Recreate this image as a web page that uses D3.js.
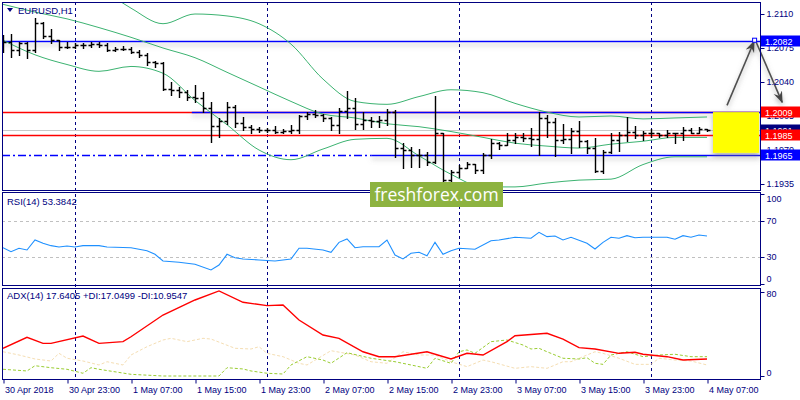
<!DOCTYPE html>
<html>
<head>
<meta charset="utf-8">
<script src="https://cdn.jsdelivr.net/npm/d3@7/dist/d3.min.js"></script>
<style>
  body { margin: 0; background: #fff; }
  svg { display: block; font-family: "Liberation Sans", Arial, sans-serif; }
  .axis text { font-size: 9px; fill: #000080; }
  .axis line { stroke: #000080; }
  .axis path { display: none; }
</style>
</head>
<body>
<div id="chart"></div>
<script>
// ---- data ----
const symbolTitle = "EURUSD,H1";
const rsiTitle = "RSI(14) 53.3842";
const adxTitle = "ADX(14) 17.6405 +DI:17.0499 -DI:10.9547";

// hourly bars, index 0 = 30 Apr 15:00
const opens = [1.2085,1.2081,1.2073,1.2080,1.2073,1.2101,1.2087,1.2083,1.2076,1.2076,
  1.2078,1.2078,1.2079,1.2078,1.2073,1.2074,1.2074,1.2071,1.2068,1.2061,
  1.2060,1.2033,1.2032,1.2030,1.2025,1.2024,1.2013,1.1995,1.2000,1.2014,
  1.1998,1.1994,1.1992,1.1991,1.1991,1.1989,1.1990,1.1991,1.2005,1.2007,
  1.2006,1.2003,1.1996,1.2010,1.2013,1.1997,1.2001,1.2000,1.2001,1.2009,
  1.1972,1.1970,1.1965,1.1965,1.1958,1.1987,1.1939,1.1947,1.1951,1.1956,
  1.1949,1.1965,1.1977,1.1975,1.1980,1.1983,1.1982,1.1981,1.2003,1.1999,
  1.1980,1.1981,1.1990,1.1979,1.1972,1.1948,1.1968,1.1980,1.1985,1.1989,
  1.1985,1.1987,1.1988,1.1985,1.1987,1.1987,1.1991,1.1988,1.1992];
const highs = [1.2088,1.2089,1.2081,1.2081,1.2106,1.2102,1.2095,1.2083,1.2081,1.2080,
  1.2080,1.2081,1.2081,1.2080,1.2076,1.2077,1.2076,1.2073,1.2070,1.2062,
  1.2061,1.2040,1.2035,1.2032,1.2037,1.2030,1.2019,1.2003,1.2019,1.2016,
  1.2004,1.1996,1.1994,1.1993,1.1995,1.1992,1.1996,1.2006,1.2009,1.2011,
  1.2007,1.2004,1.2013,1.2031,1.2024,1.2009,1.2004,1.2005,1.2012,1.2011,
  1.1977,1.1973,1.1971,1.1968,1.2026,1.1988,1.1949,1.1955,1.1958,1.1956,
  1.1967,1.1981,1.1978,1.1987,1.1988,1.1987,1.1993,1.2009,1.2006,1.2003,
  1.1997,1.1993,1.2000,1.1980,1.1982,1.1970,1.1988,1.1989,1.2004,1.1995,
  1.1990,1.1992,1.1988,1.1991,1.1988,1.1994,1.1993,1.1994,1.1992];
const lows = [1.2071,1.2066,1.2068,1.2065,1.2071,1.2085,1.2080,1.2073,1.2075,1.2075,
  1.2075,1.2076,1.2076,1.2072,1.2072,1.2073,1.2070,1.2066,1.2058,1.2055,
  1.2032,1.2027,1.2025,1.2021,1.2019,1.2009,1.1978,1.1983,1.1997,1.1994,
  1.1991,1.1987,1.1989,1.1989,1.1988,1.1987,1.1987,1.1988,1.2002,1.2004,
  1.2000,1.1991,1.1988,1.2003,1.1992,1.1992,1.1994,1.1994,1.1996,1.1963,
  1.1951,1.1953,1.1952,1.1955,1.1957,1.1937,1.1937,1.1942,1.1951,1.1946,
  1.1946,1.1962,1.1971,1.1975,1.1977,1.1979,1.1974,1.1965,1.1983,1.1964,
  1.1977,1.1967,1.1973,1.1967,1.1947,1.1946,1.1967,1.1969,1.1979,1.1982,
  1.1980,1.1983,1.1983,1.1983,1.1977,1.1980,1.1987,1.1987,1.1990];
const closes = [1.2081,1.2073,1.2080,1.2073,1.2101,1.2087,1.2083,1.2076,1.2076,1.2078,
  1.2078,1.2079,1.2078,1.2073,1.2074,1.2074,1.2071,1.2068,1.2061,1.2060,
  1.2033,1.2032,1.2030,1.2025,1.2024,1.2013,1.1995,1.2000,1.2014,1.1998,
  1.1994,1.1992,1.1991,1.1991,1.1989,1.1990,1.1991,1.2005,1.2007,1.2006,
  1.2003,1.1996,1.2010,1.2013,1.1997,1.2001,1.2000,1.2001,1.2009,1.1972,
  1.1970,1.1965,1.1965,1.1958,1.1987,1.1939,1.1947,1.1951,1.1956,1.1949,
  1.1965,1.1977,1.1975,1.1980,1.1983,1.1982,1.1981,1.2003,1.1999,1.1980,
  1.1981,1.1990,1.1979,1.1972,1.1948,1.1968,1.1980,1.1985,1.1989,1.1985,
  1.1987,1.1988,1.1985,1.1987,1.1987,1.1991,1.1988,1.1992,1.1991];

// Bollinger bands, sampled every 4 bars
const bbBars  = [0,4,8,12,16,20,24,28,32,36,40,44,48,52,56,60,64,68,72,76,80,84,88];
const bbUpper = [1.2155,1.2153,1.2150,1.2137,1.2116,1.2100,1.2110,1.2108,1.2100,1.2079,1.2043,1.2020,
  1.2017,1.2025,1.2032,1.2029,1.2018,1.2009,1.2004,1.2005,1.2002,1.2003,1.2004];
const bbMiddle = [1.2120,1.2112,1.2105,1.2096,1.2086,1.2075,1.2065,1.2050,1.2035,1.2020,1.2007,1.2003,
  1.1997,1.1994,1.1989,1.1983,1.1977,1.1974,1.1972,1.1976,1.1979,1.1983,1.1983];
const bbLower = [1.2083,1.2068,1.2058,1.2051,1.2056,1.2049,1.2021,1.1996,1.1970,1.1960,1.1971,1.1981,
  1.1982,1.1964,1.1945,1.1932,1.1932,1.1936,1.1939,1.1940,1.1955,1.1963,1.1963];

// RSI(14)
const rsiBars = [0,1,2,3,4,5,6,7,8,9,10,12,13,16,18,19,20,22,24,26,27,28,29,30,32,34,36,37,38,40,
  41,42,43,44,45,47,48,49,50,51,52,53,54,55,56,57,59,61,62,64,66,67,68,69,70,71,73,74,75,76,
  77,78,79,80,83,84,85,86,87,88];
const rsiValues = [40.3,35.9,39.7,37.8,48.9,45.2,42.6,41.1,42.2,41.1,42.6,42.6,41.1,40.3,37.0,33.0,25.6,24.1,21.9,15.6,
  21.1,33.0,29.2,27.8,26.7,25.6,27.8,39.7,39.7,37.8,35.2,46.3,50.0,40.3,41.4,41.4,48.9,32.2,27.8,34.1,
  35.2,31.4,46.3,33.0,37.0,39.7,38.6,48.1,48.9,51.9,50.8,57.4,52.6,53.3,48.9,51.9,45.2,38.9,46.3,51.9,
  50.8,53.7,51.4,51.9,51.9,49.7,53.7,51.9,54.4,53.4];
const rsiLevels = [70, 30];
const rsiTicks = [100, 70, 30, 0];

// ADX(14) with +DI / -DI
const adxBars = [0,3,5,6,10,12,15,16,20,24,27,30,33,35,37,40,42,45,47,49,53,56,58,60,63,64,68,70,72,74,77,79,80,83,85,88];
const adxValues = [26.4,36.9,31.1,31.1,38.1,31.1,32.7,37.4,58.1,72.4,81.0,70.2,67.0,67.6,53.3,39.0,35.9,23.1,18.4,18.4,
  23.1,16.2,21.6,20.0,32.7,38.4,40.7,35.2,27.0,25.7,21.6,22.6,20.7,18.4,15.2,16.2];
const plusDiBars = [0,3,4,6,8,10,11,12,16,20,23,27,28,30,31,33,35,36,38,40,41,43,46,49,51,53,54,56,57,58,59,61,63,65,66,67,
  68,70,72,73,74,75,76,78,80,82,84,86,88];
const plusDiValues = [6.4,4.8,9.8,7.9,6.4,2.6,7.9,6.4,1.6,0,0,0,7.9,6.7,4.8,2.6,1.9,10.5,18.4,15.2,12.1,22.2,16.9,13.6,10.5,7.3,16.9,12.1,23.1,24.8,21.6,32.7,34.3,29.5,25.7,26.4,
  23.1,16.9,16.2,17.4,12.1,11.1,20.0,23.1,18.4,20.0,20.7,18.4,18.4];
const minusDiBars = [0,2,4,6,7,8,10,12,13,15,16,18,20,21,23,25,26,29,31,32,33,35,37,38,41,44,46,48,50,52,54,56,58,60,61,64,66,68,70,71,
  73,74,75,77,79,81,82,84,86,88];
const minusDiValues = [23.1,20.0,16.2,14.3,21.6,16.9,14.3,10.5,13.6,10.5,20.0,27.9,34.3,35.9,32.7,35.9,35.2,26.4,25.7,27.9,21.6,18.4,12.1,10.5,24.1,20.0,13.6,12.1,23.1,20.0,20.0,13.6,8.9,15.2,13.6,7.3,8.9,7.3,13.6,13.6,
  20.0,23.1,21.6,16.9,11.1,11.1,16.9,15.2,14.3,10.5];
const adxTicks = [80, 0];

// price axis + drawn objects
const priceTicks = [1.2110, 1.2075, 1.2040, 1.2005, 1.1970, 1.1935];
const bidPrice = 1.1991;
const resistanceTop = 1.2082;
const zoneTop = 1.2009;
const pivotLine = 1.1985;
const zoneBottom = 1.1965;
const priceTags = [
  { price: 1.2082, color: "#0000ff" },
  { price: 1.2009, color: "#ff0000" },
  { price: 1.1991, color: "#000080" },
  { price: 1.1985, color: "#ff0000" },
  { price: 1.1965, color: "#0000ff" }
];
const targetBox = { fromBar: 88.75, toBar: 94.5, high: 1.2009, low: 1.1967 };
const forecastUp = [[90.5, 1.2016], [93.9, 1.2082]];
const forecastDown = [[94.1, 1.2082], [97.4, 1.2019]];

// time axis
const timeTickBars = [0, 8, 16, 24, 32, 40, 48, 56, 64, 72, 80, 88];
const timeTickLabels = ["30 Apr 2018", "30 Apr 23:00", "1 May 07:00", "1 May 15:00", "1 May 23:00", "2 May 07:00",
  "2 May 15:00", "2 May 23:00", "3 May 07:00", "3 May 15:00", "3 May 23:00", "4 May 07:00"];
const dayBreakBars = [9, 33, 57, 81];

// ---- layout ----
const width = 800, height = 400;
const left = 2, right = 760;
const mainP = { top: 2, bottom: 190 };
const rsiP = { top: 192, bottom: 285 };
const adxP = { top: 288, bottom: 379 };
const navy = "#000080";

const svg = d3.select("#chart").append("svg")
  .attr("width", width)
  .attr("height", height);

const defs = svg.append("defs");
// user space region so flat lines (zero-height bbox) still get the shadow
const shadow = defs.append("filter").attr("id", "shadow")
  .attr("filterUnits", "userSpaceOnUse")
  .attr("x", 0).attr("y", 0).attr("width", width).attr("height", height);
shadow.append("feDropShadow")
  .attr("dx", 0).attr("dy", 3).attr("stdDeviation", 2.5)
  .attr("flood-color", "#777").attr("flood-opacity", 0.55);

[["clipMain", mainP], ["clipRsi", rsiP], ["clipAdx", adxP]].forEach(([id, p]) => {
  defs.append("clipPath").attr("id", id)
    .append("rect")
    .attr("x", left + 1).attr("y", p.top + 1)
    .attr("width", right - left - 1).attr("height", p.bottom - p.top - 1);
});

// scales
const x = d3.scaleLinear().domain([0, 88]).range([3, 707]);
const y = d3.scaleLinear().domain([1.1935, 1.2110]).range([184, 14]);
const yRsi = d3.scaleLinear().domain([30, 70]).range([257, 221]);
const yAdx = d3.scaleLinear().domain([0, 80]).range([376, 292]);

// day separators through every panel
svg.append("g").selectAll("line")
  .data(dayBreakBars)
  .enter().append("line")
  .attr("x1", d => x(d) + 0.5).attr("x2", d => x(d) + 0.5)
  .attr("y1", mainP.top).attr("y2", adxP.bottom)
  .attr("stroke", navy)
  .attr("stroke-dasharray", "3,3");

// ---- main price panel ----
const main = svg.append("g").attr("clip-path", "url(#clipMain)");

// bid line
main.append("line")
  .attr("x1", left).attr("x2", right)
  .attr("y1", Math.round(y(bidPrice)) + 0.5).attr("y2", Math.round(y(bidPrice)) + 0.5)
  .attr("stroke", "#c8c8c8");

// red levels
[zoneTop, pivotLine].forEach(p => {
  main.append("line")
    .attr("x1", left).attr("x2", right)
    .attr("y1", Math.round(y(p)) + 0.5).attr("y2", Math.round(y(p)) + 0.5)
    .attr("stroke", "#ff0000").attr("stroke-width", 1.3);
});

// dash-dot support on the left part, solid further on
main.append("line")
  .attr("x1", left).attr("x2", x(46.1))
  .attr("y1", Math.round(y(zoneBottom)) + 0.5).attr("y2", Math.round(y(zoneBottom)) + 0.5)
  .attr("stroke", "#0000ff").attr("stroke-width", 1.3)
  .attr("stroke-dasharray", "8,3,2,3");

// blue channel lines with shadow
const blueLines = [
  { price: resistanceTop, from: left },
  { price: zoneTop, from: x(23.6) },
  { price: zoneBottom, from: x(46.1) }
];
main.append("g").selectAll("line")
  .data(blueLines)
  .enter().append("line")
  .attr("x1", d => d.from).attr("x2", right)
  .attr("y1", d => Math.round(y(d.price)) + 0.5).attr("y2", d => Math.round(y(d.price)) + 0.5)
  .attr("stroke", "#0000ff").attr("stroke-width", 1.3)
  .attr("filter", "url(#shadow)");

// Bollinger bands
const bbLine = vals => d3.line()
  .x((d, i) => x(bbBars[i]))
  .y((d) => y(d))
  .curve(d3.curveMonotoneX)(vals);
[bbUpper, bbMiddle, bbLower].forEach(vals => {
  main.append("path")
    .attr("d", bbLine(vals))
    .attr("fill", "none")
    .attr("stroke", "#3cb371")
    .attr("stroke-width", 1);
});

// OHLC bars
main.append("g").selectAll("path")
  .data(closes.map((c, i) => i))
  .enter().append("path")
  .attr("d", i => {
    const cx = x(i) + 0.5;
    return `M${cx},${Math.round(y(highs[i]))}V${Math.round(y(lows[i])) + 1}` +
      `M${cx - 3},${Math.round(y(opens[i])) + 0.5}H${cx}` +
      `M${cx},${Math.round(y(closes[i])) + 0.5}H${cx + 3}`;
  })
  .attr("fill", "none")
  .attr("stroke", "#000")
  .attr("stroke-width", 1.4);

// yellow target zone
main.append("rect")
  .attr("x", x(targetBox.fromBar))
  .attr("y", y(targetBox.high))
  .attr("width", x(targetBox.toBar) - x(targetBox.fromBar))
  .attr("height", y(targetBox.low) - y(targetBox.high))
  .attr("fill", "#ffff00")
  .attr("filter", "url(#shadow)");

// forecast arrows
defs.append("marker").attr("id", "head")
  .attr("viewBox", "0 0 12 10").attr("refX", 11).attr("refY", 5)
  .attr("markerUnits", "userSpaceOnUse")
  .attr("markerWidth", 12).attr("markerHeight", 10)
  .attr("orient", "auto")
  .append("path")
  .attr("d", "M0,0.5L12,5L0,9.5L4,5Z")
  .attr("fill", "#444");

const arrowG = svg.append("g").attr("filter", "url(#shadow)");
[forecastUp, forecastDown].forEach(seg => {
  arrowG.append("line")
    .attr("x1", x(seg[0][0])).attr("y1", y(seg[0][1]))
    .attr("x2", x(seg[1][0])).attr("y2", y(seg[1][1]))
    .attr("stroke", "#505050")
    .attr("stroke-width", 1.6)
    .attr("marker-end", "url(#head)");
});
// end marker of the top line
svg.append("rect")
  .attr("x", x(93.95) - 2).attr("y", y(resistanceTop) - 3)
  .attr("width", 4).attr("height", 4)
  .attr("fill", "#fff").attr("stroke", "#0000ff");

// chart title
svg.append("path")
  .attr("d", "M7,8L13,8L10,12Z")
  .attr("fill", navy);
svg.append("text")
  .attr("x", 18).attr("y", 13.5)
  .attr("font-size", 9.5).attr("fill", navy)
  .text(symbolTitle);

// ---- RSI panel ----
const rsiG = svg.append("g").attr("clip-path", "url(#clipRsi)");
rsiG.selectAll("line.level")
  .data(rsiLevels)
  .enter().append("line")
  .attr("x1", left).attr("x2", right)
  .attr("y1", d => Math.round(yRsi(d)) + 0.5).attr("y2", d => Math.round(yRsi(d)) + 0.5)
  .attr("stroke", "#c0c0c0")
  .attr("stroke-dasharray", "3,3");
rsiG.append("path")
  .datum(rsiValues)
  .attr("d", d3.line().x((d, i) => x(rsiBars[i])).y(d => yRsi(d)))
  .attr("fill", "none")
  .attr("stroke", "#1e90ff")
  .attr("stroke-width", 1.1);
svg.append("text")
  .attr("x", 7).attr("y", 205)
  .attr("font-size", 9.5).attr("fill", navy)
  .text(rsiTitle);

// ---- ADX panel ----
const adxG = svg.append("g").attr("clip-path", "url(#clipAdx)");
adxG.append("path")
  .datum(minusDiValues)
  .attr("d", d3.line().x((d, i) => x(minusDiBars[i])).y(d => yAdx(d)))
  .attr("fill", "none")
  .attr("stroke", "#f5deb3")
  .attr("stroke-dasharray", "3,2");
adxG.append("path")
  .datum(plusDiValues)
  .attr("d", d3.line().x((d, i) => x(plusDiBars[i])).y(d => yAdx(d)))
  .attr("fill", "none")
  .attr("stroke", "#9acd32")
  .attr("stroke-dasharray", "3,2");
adxG.append("path")
  .datum(adxValues)
  .attr("d", d3.line().x((d, i) => x(adxBars[i])).y(d => yAdx(d)))
  .attr("fill", "none")
  .attr("stroke", "#ff0000")
  .attr("stroke-width", 1.4);
svg.append("text")
  .attr("x", 7).attr("y", 299)
  .attr("font-size", 9.5).attr("fill", navy)
  .text(adxTitle);

// panel frames
[mainP, rsiP, adxP].forEach(p => {
  svg.append("rect")
    .attr("x", left + 0.5).attr("y", p.top + 0.5)
    .attr("width", right - left).attr("height", p.bottom - p.top)
    .attr("fill", "none")
    .attr("stroke", navy);
});

// ---- axes ----
svg.append("g")
  .attr("class", "axis")
  .attr("transform", `translate(${right + 0.5},0)`)
  .call(d3.axisRight(y).tickValues(priceTicks).tickFormat(d3.format(".4f")).tickSize(4).tickPadding(2));

svg.append("g")
  .attr("class", "axis")
  .attr("transform", `translate(${right + 0.5},0)`)
  .call(d3.axisRight(yRsi).tickValues(rsiTicks).tickSize(4).tickPadding(2))
  .selectAll("text")
  .attr("dy", d => d === 100 ? "0.85em" : d === 0 ? "-0.3em" : "0.32em");

svg.append("g")
  .attr("class", "axis")
  .attr("transform", `translate(${right + 0.5},0)`)
  .call(d3.axisRight(yAdx).tickValues(adxTicks).tickSize(4).tickPadding(2))
  .selectAll("text")
  .attr("dy", d => d === 80 ? "0.55em" : "-0.1em");

const xAxis = svg.append("g")
  .attr("class", "axis")
  .attr("transform", `translate(0.5,${adxP.bottom + 0.5})`)
  .call(d3.axisBottom(x).tickValues(timeTickBars).tickFormat((d, i) => timeTickLabels[i]).tickSize(4).tickPadding(3));
xAxis.selectAll("text")
  .attr("text-anchor", "start")
  .attr("x", 1);

// price tags on the right scale (they cover the nearby scale labels, as in MT4)
const tags = svg.append("g").selectAll("g")
  .data(priceTags)
  .enter().append("g")
  .attr("transform", d => `translate(${right + 1},${Math.round(y(d.price))})`);
tags.append("rect")
  .attr("x", 0).attr("y", -5.5)
  .attr("width", 39).attr("height", 11)
  .attr("fill", d => d.color);
tags.append("text")
  .attr("x", 4).attr("y", 3.5)
  .attr("font-size", 9).attr("fill", "#fff")
  .text(d => d.price.toFixed(4));

// watermark
const wm = svg.append("g").attr("transform", "translate(370,182)");
wm.append("rect")
  .attr("width", 133).attr("height", 25)
  .attr("fill", "#8db340");
wm.append("text")
  .attr("x", 66.5).attr("y", 19)
  .attr("text-anchor", "middle")
  .attr("font-family", "'Open Sans', sans-serif")
  .attr("font-size", 17.5)
  .attr("fill", "#fff")
  .text("freshforex.com");
</script>
</body>
</html>
